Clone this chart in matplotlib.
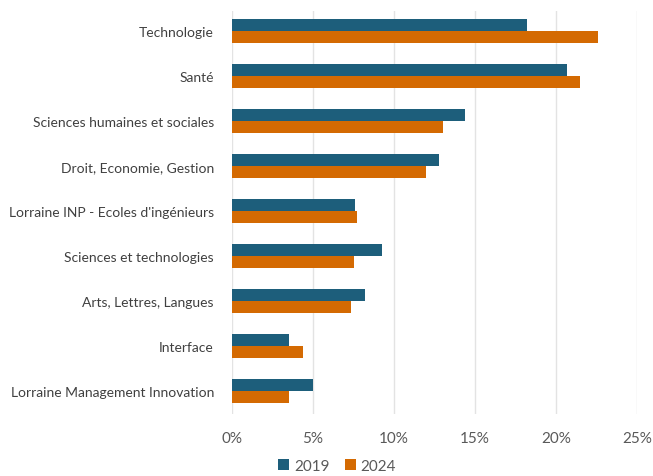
import matplotlib
matplotlib.use("Agg")
import matplotlib.pyplot as plt
import numpy as np
from matplotlib.ticker import PercentFormatter

categories = ["Technologie", "Santé", "Sciences humaines et sociales",
              "Droit, Economie, Gestion", "Lorraine INP - Ecoles d'ingénieurs",
              "Sciences et technologies", "Arts, Lettres, Langues", "Interface",
              "Lorraine Management Innovation"]
v2019 = [18.2, 20.65, 14.4, 12.8, 7.6, 9.25, 8.2, 3.5, 5.0]
v2024 = [22.6, 21.5, 13.0, 12.0, 7.7, 7.55, 7.35, 4.4, 3.5]
series = ["2019", "2024"]
xticks = [0, 5, 10, 15, 20, 25]

plt.rcParams['font.family'] = ['Lato', 'DejaVu Sans']

fig = plt.figure(figsize=(6.53, 4.77), dpi=100)
ax = fig.add_axes([232/653, 1-415/477, (637-232)/653, (415-12)/477])

y = np.arange(len(categories))
h = 0.27
ax.barh(y - h/2, v2019, height=h, color="#1D5E7B", label=series[0], zorder=3)
ax.barh(y + h/2, v2024, height=h, color="#D46A02", label=series[1], zorder=3)

ax.set_ylim(8.51, -0.444)
ax.set_xlim(0, 25)
ax.set_xticks(xticks)
ax.xaxis.set_major_formatter(PercentFormatter(decimals=0))
ax.set_yticks(y)
ax.set_yticklabels(categories)
ax.grid(axis='x', color="#E3E3E3", linewidth=1, zorder=0)
for s in ax.spines.values():
    s.set_visible(False)
ax.tick_params(axis='both', length=0, colors="#404040", labelsize=10)
ax.tick_params(axis='x', pad=12, labelcolor="#595959", labelsize=11)
ax.tick_params(axis='y', pad=13)

leg = fig.legend(loc='center', bbox_to_anchor=(337/653, 1-467/477), ncol=2,
                 frameon=False, fontsize=11, handlelength=0.75, handleheight=0.75,
                 columnspacing=1.0, handletextpad=0.3, labelcolor="#595959")

fig.savefig("out.png", dpi=100)
